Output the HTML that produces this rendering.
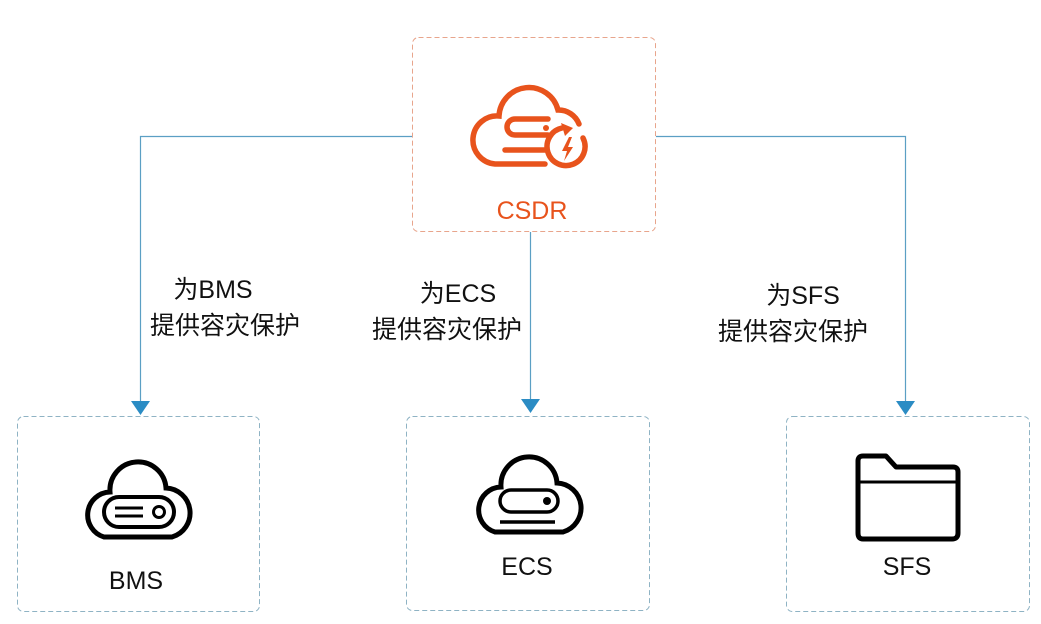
<!DOCTYPE html>
<html><head><meta charset="utf-8"><style>
html,body{margin:0;padding:0;background:#fff;}
svg{display:block;}
text{font-family:"Liberation Sans","Noto Sans CJK SC",sans-serif;}
</style></head><body>
<svg width="1041" height="624" viewBox="0 0 1041 624" xmlns="http://www.w3.org/2000/svg">
<defs>
<path id="cloud" d="M22,76 A23,23 0 0 1 28,31 A28,28 0 0 1 84,27 A25,25 0 0 1 90,76 Z"/>
</defs>
<!-- boxes -->
<rect x="412.5" y="37.5" width="243" height="194" rx="6" fill="none" stroke="#e8a58c" stroke-width="1" stroke-dasharray="5,3"/>
<rect x="17.5" y="416.5" width="242" height="195" rx="6" fill="none" stroke="#8fb3c4" stroke-width="1" stroke-dasharray="5,3"/>
<rect x="406.5" y="416.5" width="243" height="194" rx="6" fill="none" stroke="#8fb3c4" stroke-width="1" stroke-dasharray="5,3"/>
<rect x="786.5" y="416.5" width="243" height="195" rx="6" fill="none" stroke="#8fb3c4" stroke-width="1" stroke-dasharray="5,3"/>
<!-- connectors -->
<g stroke="#5b9fc4" stroke-width="1.2" fill="none">
<polyline points="412,136.5 140.5,136.5 140.5,402"/>
<line x1="530.5" y1="232" x2="530.5" y2="400"/>
<polyline points="656,136.5 905.5,136.5 905.5,402"/>
</g>
<g fill="#2b8cc4">
<polygon points="131,401 150,401 140.5,415"/>
<polygon points="521,399 540,399 530.5,413"/>
<polygon points="896,401 915,401 905.5,415"/>
</g>
<!-- labels -->
<g font-size="25" fill="#111">
<text x="213" y="298" text-anchor="middle">为BMS</text>
<text x="225" y="334" text-anchor="middle">提供容灾保护</text>
<text x="458" y="302" text-anchor="middle">为ECS</text>
<text x="447" y="338" text-anchor="middle">提供容灾保护</text>
<text x="803" y="304" text-anchor="middle">为SFS</text>
<text x="793" y="340" text-anchor="middle">提供容灾保护</text>
</g>
<!-- CSDR icon -->
<g stroke="#e8531c" stroke-width="5.5" fill="none" stroke-linecap="round">
<path d="M545,164 L495,164 A23,23 0 0 1 499,116 A30,30 0 0 1 558,110 A22,22 0 0 1 579,124"/>
<path d="M548,119 L515,119 A8,8 0 0 0 515,135 L548,135"/>
<line x1="505" y1="150" x2="545" y2="150"/>
<path d="M583,138 A19,19 0 1 1 562,128"/>
</g>
<circle cx="546" cy="128" r="3" fill="#e8531c"/>
<polygon points="561,123 573,128 565,136" fill="#e8531c"/>
<polygon points="569,137 562,151 567,151 564,161 573,147 568,147 572,137" fill="#e8531c"/>
<text x="532" y="219" text-anchor="middle" font-size="25" fill="#e8531c">CSDR</text>
<!-- BMS icon -->
<g transform="translate(82,461)">
<use href="#cloud" fill="none" stroke="#000" stroke-width="5"/>
<rect x="22" y="36" width="70" height="30" rx="15" fill="none" stroke="#000" stroke-width="4"/>
<line x1="33" y1="47" x2="61" y2="47" stroke="#000" stroke-width="3"/>
<line x1="33" y1="55" x2="61" y2="55" stroke="#000" stroke-width="3"/>
<circle cx="77" cy="51" r="5.5" fill="none" stroke="#000" stroke-width="3"/>
</g>
<text x="136" y="589" text-anchor="middle" font-size="25" fill="#111">BMS</text>
<!-- ECS icon -->
<g transform="translate(473,456)">
<use href="#cloud" fill="none" stroke="#000" stroke-width="5"/>
<rect x="27" y="34" width="58" height="22" rx="11" fill="none" stroke="#000" stroke-width="3.5"/>
<circle cx="74" cy="45" r="4" fill="#000"/>
<line x1="27" y1="66" x2="82" y2="66" stroke="#000" stroke-width="3.5"/>
</g>
<text x="527" y="575" text-anchor="middle" font-size="25" fill="#111">ECS</text>
<!-- SFS icon -->
<g stroke="#000" stroke-width="5" fill="none" stroke-linejoin="round">
<path d="M858,461 Q858,456 863,456 L886,456 L896,467 L953,467 Q958,467 958,472 L958,533 Q958,539 952,539 L863,539 Q858,539 858,533 Z"/>
<line x1="858" y1="482" x2="958" y2="482" stroke-width="3"/>
</g>
<text x="907" y="575" text-anchor="middle" font-size="25" fill="#111">SFS</text>
</svg>
</body></html>
